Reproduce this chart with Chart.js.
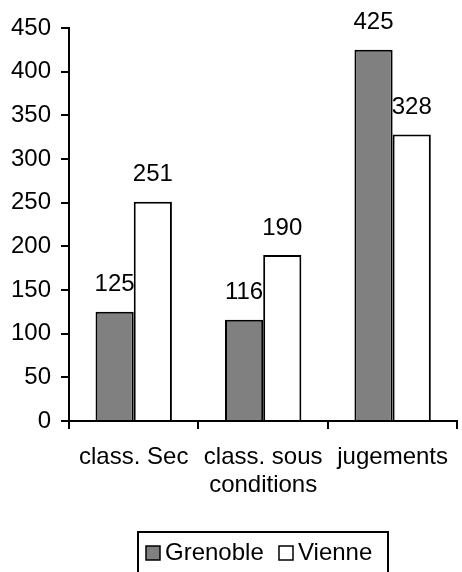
<!DOCTYPE html>
<html>
<head>
<meta charset="utf-8">
<script src="https://cdn.jsdelivr.net/npm/chart.js@4/dist/chart.umd.min.js"></script>
<style>
  html, body { margin: 0; padding: 0; background: #fff; }
  #wrap { width: 462px; height: 572px; }
</style>
</head>
<body>
<div id="wrap"><canvas id="chart" width="462" height="572"></canvas></div>
<script>
const categories = ['class. Sec', ['class. sous', 'conditions'], 'jugements'];
const grenoble = [125, 116, 425];
const vienne = [251, 190, 328];
const yTicks = [0, 50, 100, 150, 200, 250, 300, 350, 400, 450];

const FONT = '"Liberation Sans", Arial, sans-serif';

// value labels above each bar
const valueLabels = {
  id: 'valueLabels',
  afterDatasetsDraw(chart) {
    const ctx = chart.ctx;
    ctx.save();
    ctx.font = '24px ' + FONT;
    ctx.fillStyle = '#000';
    ctx.textAlign = 'center';
    ctx.textBaseline = 'middle';
    chart.data.datasets.forEach((ds, i) => {
      chart.getDatasetMeta(i).data.forEach((bar, j) => {
        ctx.fillText(String(ds.data[j]), bar.x, bar.y - 27);
      });
    });
    ctx.restore();
  }
};

// boxed legend at the bottom
const boxLegend = {
  id: 'boxLegend',
  afterDraw(chart) {
    const ctx = chart.ctx;
    ctx.save();
    ctx.strokeStyle = '#000';
    ctx.lineWidth = 2;
    ctx.strokeRect(138, 532, 250, 44);
    ctx.font = '24px ' + FONT;
    ctx.textBaseline = 'middle';
    const items = [
      { x: 146, ds: chart.data.datasets[0] },
      { x: 279, ds: chart.data.datasets[1] }
    ];
    items.forEach(it => {
      ctx.fillStyle = it.ds.backgroundColor;
      ctx.fillRect(it.x, 546, 14, 14);
      ctx.lineWidth = 1.5;
      ctx.strokeRect(it.x, 546, 14, 14);
      ctx.fillStyle = '#000';
      ctx.fillText(it.ds.label, it.x + 19, 553);
    });
    ctx.restore();
  }
};

new Chart(document.getElementById('chart'), {
  type: 'bar',
  data: {
    labels: categories,
    datasets: [
      { label: 'Grenoble', data: grenoble, backgroundColor: '#808080', borderColor: '#000', borderWidth: 2, borderSkipped: 'bottom' },
      { label: 'Vienne', data: vienne, backgroundColor: '#ffffff', borderColor: '#000', borderWidth: 2, borderSkipped: 'bottom' }
    ]
  },
  options: {
    responsive: false,
    animation: false,
    layout: { padding: { top: 28, right: 0, left: 0, bottom: 0 } },
    datasets: { bar: { categoryPercentage: 0.59, barPercentage: 1.0 } },
    plugins: { legend: { display: false }, tooltip: { enabled: false } },
    scales: {
      x: {
        grid: { display: true, drawOnChartArea: false, drawTicks: true, tickLength: 8, color: '#000', lineWidth: 2, offset: true },
        border: { display: true, color: '#000', width: 2 },
        ticks: { color: '#000', font: { family: FONT, size: 24, lineHeight: 1.17 }, padding: 14, maxRotation: 0, autoSkip: false },
        afterFit(scale) { scale.height = 151; }
      },
      y: {
        min: 0,
        max: 450,
        afterBuildTicks(scale) { scale.ticks = yTicks.map(v => ({ value: v })); },
        grid: { display: true, drawOnChartArea: false, drawTicks: true, tickLength: 8, color: '#000', lineWidth: 2 },
        border: { display: true, color: '#000', width: 2 },
        ticks: { color: '#000', font: { family: FONT, size: 24 }, padding: 10 },
        afterFit(scale) { scale.width = 69; }
      }
    }
  },
  plugins: [valueLabels, boxLegend]
});
</script>
</body>
</html>
